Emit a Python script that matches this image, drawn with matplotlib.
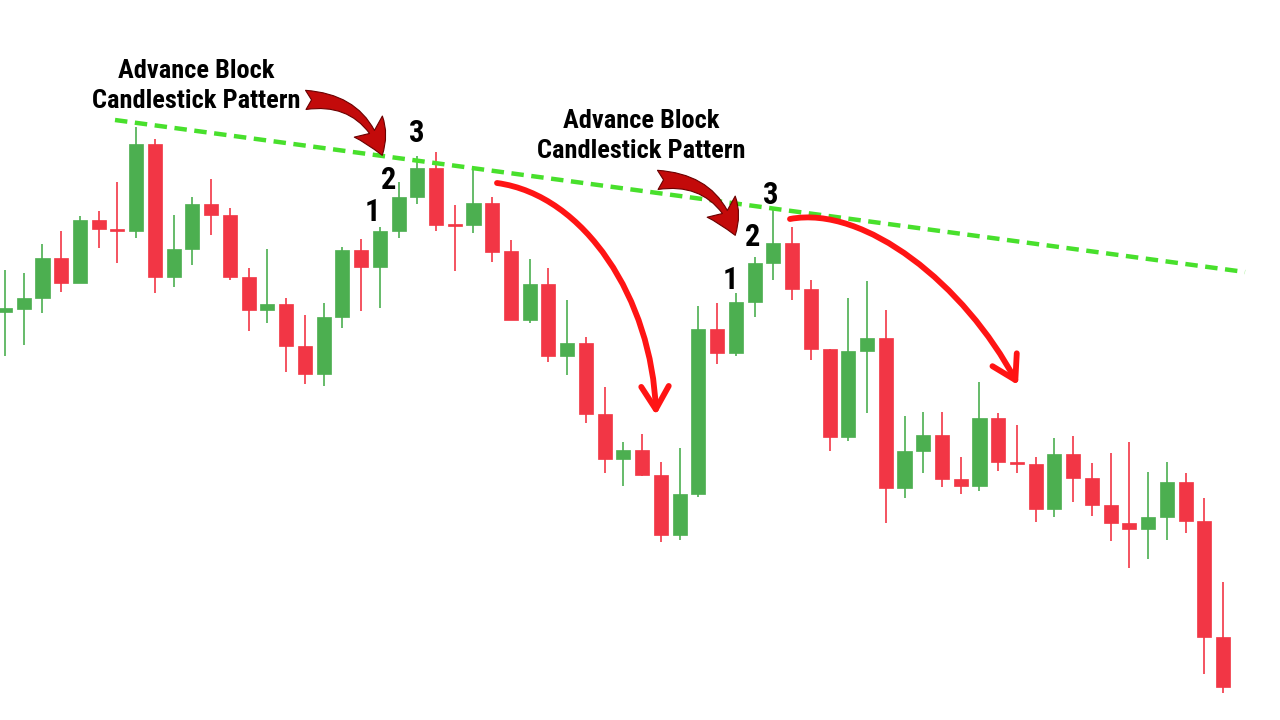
import matplotlib.pyplot as plt
from matplotlib.patches import FancyArrowPatch
from matplotlib.path import Path

# candle prices (higher = up)
opens = [408, 411, 422, 462, 437, 500, 491, 489, 576, 443, 471, 516, 505, 443, 410,
         416, 374, 346, 403, 470, 453, 489, 523, 552, 496, 495, 517, 469, 400, 436,
         364, 377, 306, 261, 270, 245, 185, 226, 391, 367, 418, 457, 477, 431, 371,
         283, 369, 382, 232, 269, 285, 241, 234, 302, 258, 256, 211, 266, 242, 215,
         197, 191, 203, 238, 199, 83]
highs = [450, 447, 476, 489, 504, 509, 538, 593, 581, 505, 523, 541, 512, 452, 471,
         422, 405, 417, 473, 481, 493, 538, 564, 568, 515, 550, 523, 480, 461, 452,
         420, 383, 333, 278, 286, 258, 272, 414, 417, 427, 463, 511, 493, 440, 371,
         422, 439, 410, 304, 308, 308, 263, 338, 307, 295, 263, 282, 284, 257, 267,
         278, 248, 258, 247, 222, 138]
lows = [364, 375, 407, 428, 437, 472, 457, 482, 427, 433, 455, 485, 440, 389, 397,
        348, 336, 334, 392, 409, 412, 482, 516, 489, 449, 487, 458, 400, 397, 358,
        345, 297, 247, 234, 244, 178, 180, 223, 356, 364, 403, 440, 420, 360, 269,
        279, 307, 197, 222, 247, 233, 226, 229, 249, 247, 198, 203, 218, 204, 179,
        152, 161, 180, 187, 46, 27]
closes = [412, 422, 462, 437, 500, 491, 489, 576, 443, 471, 516, 505, 443, 410, 416,
          374, 346, 403, 470, 453, 489, 523, 552, 495, 494, 517, 468, 400, 436, 364,
          377, 306, 261, 270, 245, 185, 226, 391, 367, 418, 457, 477, 431, 371, 283,
          369, 382, 232, 269, 285, 241, 234, 302, 258, 256, 211, 266, 242, 215, 197,
          191, 203, 238, 199, 83, 33]

# trendline anchors (candle index, price)
trend_x = [5.87, 66.17]
trend_y = [600, 448]

# pattern candles (1, 2, 3) for both setups
pattern_a = [20, 21, 22]
pattern_b = [39, 40, 41]

UP = '#4caf50'
DOWN = '#f23645'
PX = 18.74  # pixels per candle


def px(x, y):
    # pixel position in the picture -> data coordinates
    return (x - 5) / PX, 720 - y


fig = plt.figure(figsize=(12.8, 7.2), dpi=100)
ax = fig.add_axes([0, 0, 1, 1])
ax.set_xlim(-5 / PX, 1275 / PX)
ax.set_ylim(0, 720)
ax.axis('off')

for i, (o, h, l, c) in enumerate(zip(opens, highs, lows, closes)):
    color = UP if c >= o else DOWN
    ax.plot([i, i], [l, h], color=color, lw=1.2, zorder=2, solid_capstyle='butt')
    ax.bar(i, max(abs(c - o), 2), bottom=min(o, c), width=0.75,
           color=color, edgecolor=color, linewidth=0.5, zorder=3)

ax.plot(trend_x, trend_y, color='#48e02c', lw=3.2, dashes=(2.8, 1.7), zorder=4)

font = ['Roboto Condensed', 'DejaVu Sans Condensed', 'Liberation Sans Narrow', 'Roboto']
for cx, cy in [(196, 86), (641, 136)]:
    x, y = px(cx, cy)
    ax.text(x, y, 'Advance Block\nCandlestick Pattern', family=font, weight='heavy',
            stretch='condensed', fontsize=19, ha='center', va='center',
            linespacing=1.3, zorder=6)

for idx, offs in [(pattern_a, [(-7, 212), (-10, 180), (-1, 133)]),
                  (pattern_b, [(-5, 280), (-2, 237), (-3, 195)])]:
    for n, (i, (dx, y)) in enumerate(zip(idx, offs)):
        ax.text(i + dx / PX, 720 - y, str(n + 1), family=font, weight='heavy',
                stretch='condensed', fontsize=22, ha='center', va='center', zorder=6)

# dark red pointer arrows
for a, b in [((303, 100), (383, 158)), ((655, 180), (736, 238))]:
    ax.add_patch(FancyArrowPatch(px(*a), px(*b), connectionstyle='arc3,rad=-0.4',
                                 arrowstyle='fancy,head_width=1.1,head_length=1.0,tail_width=0.6',
                                 mutation_scale=23, facecolor='#c30a0a',
                                 edgecolor='#6a0000', lw=0.8, zorder=7))

# bright red curved arrows
for pts in [[(497, 183), (585, 195), (652, 300), (656, 415)],
            [(790, 219), (865, 205), (965, 285), (1018, 385)]]:
    path = Path([px(*p) for p in pts],
                [Path.MOVETO, Path.CURVE4, Path.CURVE4, Path.CURVE4])
    ax.add_patch(FancyArrowPatch(path=path, arrowstyle='->,head_length=0.75,head_width=0.45',
                                 mutation_scale=22, color='#ff1414', lw=4.2,
                                 capstyle='round', joinstyle='round', zorder=7))

fig.savefig('out.png', dpi=100)
